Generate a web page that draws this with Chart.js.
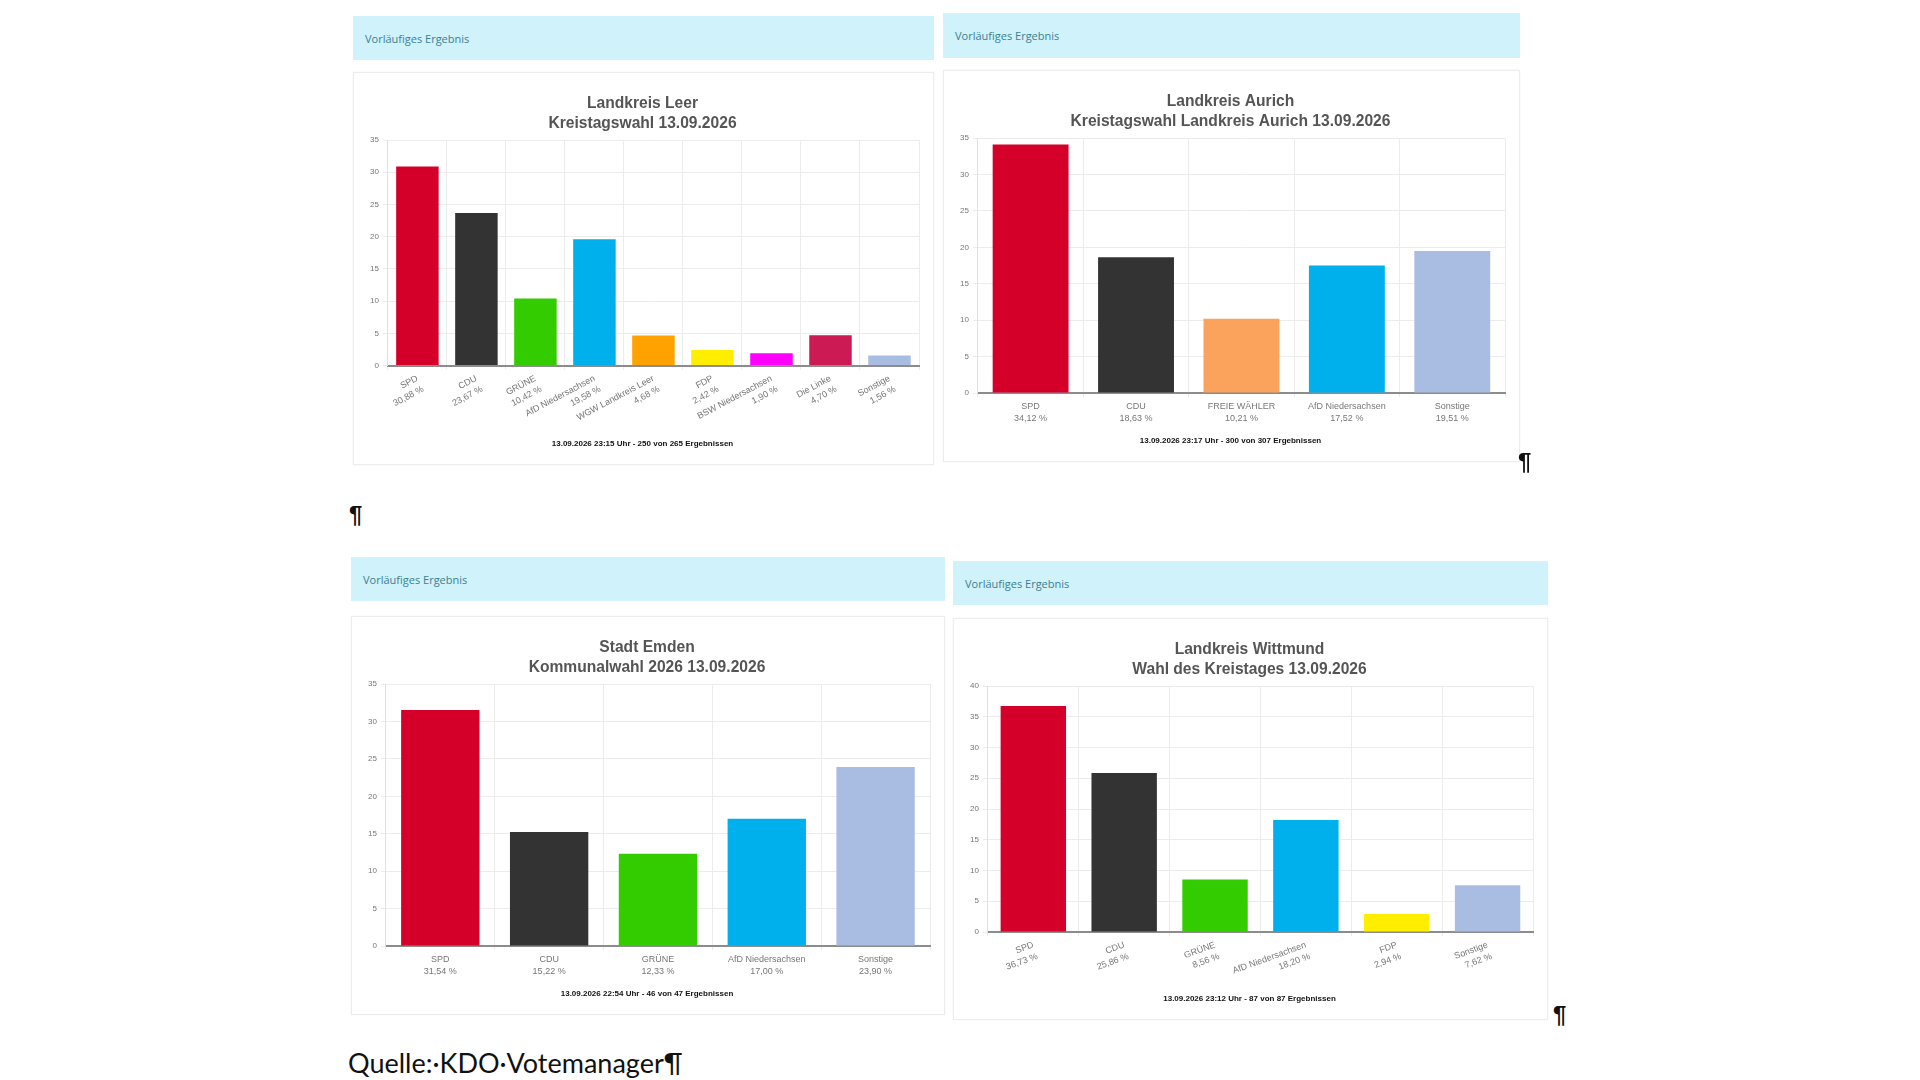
<!DOCTYPE html>
<html lang="de">
<head>
<meta charset="utf-8">
<title>Vorläufige Ergebnisse Kommunalwahl 13.09.2026</title>
<script src="https://cdn.jsdelivr.net/npm/chart.js@4.4.1/dist/chart.umd.min.js"></script>
<style>
  html, body { margin: 0; padding: 0; background: #fff; }
  body { width: 1920px; height: 1080px; position: relative; overflow: hidden; font-family: "Liberation Sans", Arial, sans-serif; }
  .head {
    position: absolute; background: #cff2fb; color: #3d7f92;
    font-family: "Open Sans", sans-serif; font-size: 11px;
    box-sizing: border-box; padding-left: 12px; display: flex; align-items: center;
  }
  .card {
    position: absolute; background: #fff; border: 1px solid #ededed;
    box-shadow: 0 0 2px rgba(0,0,0,0.05); box-sizing: border-box;
  }
  .card canvas { display: block; }
  .pilcrow { position: absolute; font-family: "Liberation Sans", Arial, sans-serif; font-size: 24px; font-weight: bold; color: #111; line-height: 1; }
  .quelle { position: absolute; font-family: Lato, "Open Sans", sans-serif; font-size: 27px; color: #111; line-height: 1; }
</style>
</head>
<body>

<div class="head" style="left:353px;top:16px;width:581px;height:44px;">Vorläufiges Ergebnis</div>
<div class="card" style="left:353px;top:72px;width:581px;height:393px;"><canvas id="leerChart"></canvas></div>

<div class="head" style="left:943px;top:13px;width:577px;height:45px;">Vorläufiges Ergebnis</div>
<div class="card" style="left:943px;top:70px;width:577px;height:392px;"><canvas id="aurichChart"></canvas></div>
<div class="pilcrow" style="left:1518px;top:450px;">¶</div>

<div class="pilcrow" style="left:349px;top:503px;">¶</div>

<div class="head" style="left:351px;top:557px;width:594px;height:44px;">Vorläufiges Ergebnis</div>
<div class="card" style="left:351px;top:616px;width:594px;height:399px;"><canvas id="emdenChart"></canvas></div>

<div class="head" style="left:953px;top:561px;width:595px;height:44px;">Vorläufiges Ergebnis</div>
<div class="card" style="left:953px;top:618px;width:595px;height:402px;"><canvas id="wittmundChart"></canvas></div>
<div class="pilcrow" style="left:1553px;top:1003px;">¶</div>

<div class="quelle" style="left:348px;top:1049px;">Quelle:·KDO·Votemanager¶</div>

<script>
// Landkreis Leer
const leerParties = ["SPD", "CDU", "GRÜNE", "AfD Niedersachsen", "WGW Landkreis Leer", "FDP", "BSW Niedersachsen", "Die Linke", "Sonstige"];
const leerValues = [30.88, 23.67, 10.42, 19.58, 4.68, 2.42, 1.90, 4.70, 1.56];

// Landkreis Aurich
const aurichParties = ["SPD", "CDU", "FREIE WÄHLER", "AfD Niedersachsen", "Sonstige"];
const aurichValues = [34.12, 18.63, 10.21, 17.52, 19.51];

// Stadt Emden
const emdenParties = ["SPD", "CDU", "GRÜNE", "AfD Niedersachsen", "Sonstige"];
const emdenValues = [31.54, 15.22, 12.33, 17.00, 23.90];

// Landkreis Wittmund
const wittmundParties = ["SPD", "CDU", "GRÜNE", "AfD Niedersachsen", "FDP", "Sonstige"];
const wittmundValues = [36.73, 25.86, 8.56, 18.20, 2.94, 7.62];

const partyColors = {
  "SPD": "#d50029",
  "CDU": "#333333",
  "GRÜNE": "#33cc00",
  "AfD Niedersachsen": "#00b0ec",
  "WGW Landkreis Leer": "#ffa200",
  "FDP": "#ffee00",
  "BSW Niedersachsen": "#ff00ff",
  "Die Linke": "#cc1a55",
  "FREIE WÄHLER": "#fba25c",
  "Sonstige": "#a9bde3",
};

const fmt = (v) => v.toFixed(2).replace(".", ",") + " %";

function makeChart(id, parties, values, yMax, title, footer, rotation, footerGap) {
  const canvas = document.getElementById(id);
  const box = canvas.parentElement;
  canvas.width = box.clientWidth;
  canvas.height = box.clientHeight;
  return new Chart(canvas.getContext("2d"), {
    type: "bar",
    data: {
      labels: parties.map((p, i) => [p, fmt(values[i])]),
      datasets: [
        {
          data: values,
          backgroundColor: parties.map((p) => partyColors[p]),
          borderWidth: 0,
        },
      ],
    },
    options: {
      responsive: false,
      animation: false,
      devicePixelRatio: 1,
      layout: { padding: { left: 12, right: 14, top: 21, bottom: 15 } },
      plugins: {
        legend: { display: false },
        tooltip: { enabled: false },
        title: {
          display: true,
          text: title,
          color: "#555",
          font: { family: "Liberation Sans", size: 15.6, weight: "bold", lineHeight: 1.25 },
          padding: { top: 0, bottom: 7 },
        },
        subtitle: {
          display: true,
          position: "bottom",
          text: footer,
          color: "#111",
          font: { family: "Liberation Sans", size: 8, weight: "bold" },
          padding: { top: footerGap, bottom: 0 },
        },
      },
      scales: {
        x: {
          grid: { color: "#ececec", offset: true, tickLength: 4 },
          border: { color: "#8c8c8c", width: 2 },
          ticks: {
            color: "#777",
            font: { family: "Liberation Sans", size: 9, lineHeight: 1.35 },
            autoSkip: false,
            maxRotation: rotation,
            minRotation: rotation,
            padding: 3,
          },
        },
        y: {
          min: 0,
          max: yMax,
          grid: { color: "#ececec", tickLength: 5 },
          border: { color: "#e0e0e0" },
          ticks: {
            stepSize: 5,
            color: "#777",
            font: { family: "Liberation Sans", size: 8 },
            padding: 4,
          },
        },
      },
    },
  });
}

makeChart("leerChart", leerParties, leerValues, 35,
  ["Landkreis Leer", "Kreistagswahl 13.09.2026"],
  "13.09.2026 23:15 Uhr - 250 von 265 Ergebnissen", 28, 2);
makeChart("aurichChart", aurichParties, aurichValues, 35,
  ["Landkreis Aurich", "Kreistagswahl Landkreis Aurich 13.09.2026"],
  "13.09.2026 23:17 Uhr - 300 von 307 Ergebnissen", 0, 9);
makeChart("emdenChart", emdenParties, emdenValues, 35,
  ["Stadt Emden", "Kommunalwahl 2026 13.09.2026"],
  "13.09.2026 22:54 Uhr - 46 von 47 Ergebnissen", 0, 9);
makeChart("wittmundChart", wittmundParties, wittmundValues, 40,
  ["Landkreis Wittmund", "Wahl des Kreistages 13.09.2026"],
  "13.09.2026 23:12 Uhr - 87 von 87 Ergebnissen", 20, 3);
</script>
</body>
</html>
